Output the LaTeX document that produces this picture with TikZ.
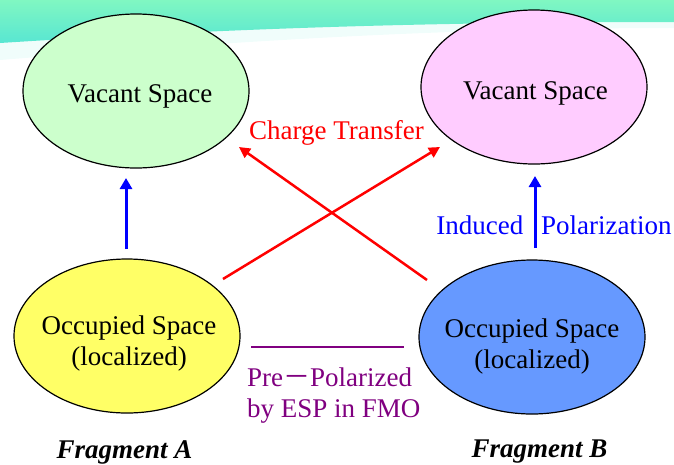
\documentclass[tikz,border=0pt]{standalone}
\usepackage{fontspec}
\setmainfont{Liberation Serif}
\newfontfamily\cjkfont{Noto Sans CJK SC}
\usetikzlibrary{arrows.meta,shapes.geometric}
\definecolor{vacA}{HTML}{CCFFCC}
\definecolor{vacB}{HTML}{FFCCFF}
\definecolor{occA}{HTML}{FFFF66}
\definecolor{occB}{HTML}{6699FF}
\definecolor{purp}{HTML}{800080}
\definecolor{bandtop}{HTML}{80F7C2}
\definecolor{bandbot}{HTML}{58E6D2}
\begin{document}
\begin{tikzpicture}[x=1pt,y=-1pt,
 oval/.style={ellipse, draw=black, line width=1.2pt, inner sep=0pt, minimum width=226pt, minimum height=154pt},
 txt/.style={inner sep=0pt, font=\fontsize{27}{31}\selectfont},
 fragtxt/.style={inner sep=0pt, font=\fontsize{27}{31}\selectfont\bfseries\itshape},
 blarrow/.style={draw=blue, line width=3pt, -{Triangle[length=11pt,width=12pt]}},
 rdarrow/.style={draw=red, line width=2.5pt, -{Triangle[length=11pt,width=11pt]}},
 prline/.style={draw=purp, line width=2pt},
]
\useasboundingbox (0,0) rectangle (674,464);
% top band
\fill[bandbot!25, opacity=0.35] (0,40) .. controls (250,26) and (450,21) .. (674,21) -- (674,28) .. controls (450,28) and (250,40) .. (0,60) -- cycle;
\shade[top color=bandtop, bottom color=bandbot] (0,0) -- (674,0) -- (674,22) .. controls (450,22) and (250,27) .. (0,43) -- cycle;

% ellipses
\node[oval, fill=vacA] (va) at (136,91) {};
\node[oval, fill=vacB] (vb) at (534,87) {};
\node[oval, fill=occA] (oa) at (127,336) {};
\node[oval, fill=occB] (ob) at (532,337) {};

% ellipse texts
\node[txt, anchor=base] (vat) at (140,102) {Vacant Space};
\node[txt, anchor=base] (vbt) at (535.5,99) {Vacant Space};
\node[txt, align=center] (oat) at (129,343) {Occupied Space\\(localized)};
\node[txt, align=center] (obt) at (532,346) {Occupied Space\\(localized)};

% arrow end points
\coordinate (a1s) at (126,249);
\coordinate (a1e) at (126,178);
\coordinate (b1s) at (535,248);
\coordinate (b1e) at (535,176);
\coordinate (r1s) at (223,279);
\coordinate (r1e) at (440,147);
\coordinate (r2s) at (427,280);
\coordinate (r2e) at (239,147);
\coordinate (p1s) at (251,347);
\coordinate (p1e) at (404,347);

\draw[blarrow] (a1s) -- (a1e);
\draw[blarrow] (b1s) -- (b1e);
\draw[rdarrow] (r1s) -- (r1e);
\draw[rdarrow] (r2s) -- (r2e);
\draw[prline] (p1s) -- (p1e);

% labels
\node[txt, text=red, anchor=base] (ct) at (336.5,139) {Charge Transfer};
\node[txt, text=blue, anchor=base east] (ind) at (523.5,234) {Induced};
\node[txt, text=blue, anchor=base west] (pol) at (541,234) {Polarization};
\node[txt, text=purp, align=left, anchor=west] (pre) at (247,396) {Pre{\cjkfont －}Polarized\\by ESP in FMO};

\node[fragtxt, anchor=base] (fa) at (124.5,458) {Fragment A};
\node[fragtxt, anchor=base] (fb) at (539.5,457) {Fragment B};
\end{tikzpicture}
\end{document}
